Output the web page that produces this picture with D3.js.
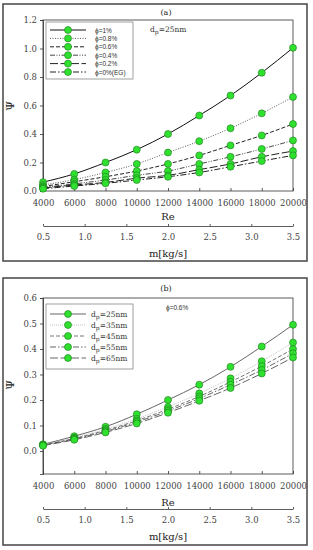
<!DOCTYPE html>
<html>
<head>
<meta charset="utf-8">
<script src="https://cdn.jsdelivr.net/npm/d3@7"></script>
<style>
  body { margin: 0; background: #fff; }
  svg { display: block; }
</style>
</head>
<body>
<div id="chart"></div>
<script>

// Reynolds numbers and mass flow ticks (shared by both panels)
const RE = [4000, 6000, 8000, 10000, 12000, 14000, 16000, 18000, 20000];
const MASS_TICKS = [0.5, 1.0, 1.5, 2.0, 2.5, 3.0, 3.5];

// panel (a): volume fraction series, dp = 25nm
const PHI_LABELS = ["ϕ=1%", "ϕ=0.8%", "ϕ=0.6%", "ϕ=0.4%", "ϕ=0.2%", "ϕ=0%(EG)"];
const PSI_PHI_1   = [0.062, 0.12, 0.20, 0.29, 0.40, 0.53, 0.67, 0.83, 1.005];
const PSI_PHI_08  = [0.042, 0.08, 0.13, 0.19, 0.27, 0.35, 0.44, 0.545, 0.66];
const PSI_PHI_06  = [0.032, 0.065, 0.10, 0.14, 0.19, 0.25, 0.32, 0.39, 0.47];
const PSI_PHI_04  = [0.026, 0.05, 0.077, 0.11, 0.14, 0.19, 0.24, 0.295, 0.355];
const PSI_PHI_02  = [0.021, 0.042, 0.06, 0.09, 0.11, 0.15, 0.19, 0.24, 0.28];
const PSI_PHI_0   = [0.016, 0.035, 0.054, 0.077, 0.10, 0.13, 0.17, 0.21, 0.25];
const PSI_A_TICKS = [0.0, 0.2, 0.4, 0.6, 0.8, 1.0, 1.2];

// panel (b): particle diameter series, phi = 0.6%
const DP_LABELS = ["25nm", "35nm", "45nm", "55nm", "65nm"];
const PSI_DP_25 = [0.026, 0.058, 0.095, 0.144, 0.20, 0.26, 0.33, 0.41, 0.495];
const PSI_DP_35 = [0.025, 0.052, 0.086, 0.126, 0.173, 0.226, 0.285, 0.352, 0.425];
const PSI_DP_45 = [0.024, 0.049, 0.081, 0.119, 0.164, 0.214, 0.271, 0.333, 0.40];
const PSI_DP_55 = [0.023, 0.047, 0.077, 0.114, 0.157, 0.206, 0.26, 0.318, 0.383];
const PSI_DP_65 = [0.021, 0.044, 0.073, 0.108, 0.15, 0.197, 0.247, 0.304, 0.367];
const PSI_B_TICKS = [0.0, 0.1, 0.2, 0.3, 0.4, 0.5, 0.6];

const SERIF = "'DejaVu Serif', serif";
const SANS = "'Liberation Sans', Arial, sans-serif";
const GREEN = "#2fe02f";

const SVG = d3.select("#chart")
  .append("svg")
    .attr("width", 313)
    .attr("height", 550);

// draw one framed panel
function drawPanel(cfg) {
  const g = SVG.append("g");

  // outer frame
  g.append("rect")
    .attr("x", 3).attr("y", cfg.frameTop)
    .attr("width", 304).attr("height", cfg.frameBottom - cfg.frameTop)
    .attr("fill", "none").attr("stroke", "#444").attr("stroke-width", 1.5);

  const X = d3.scaleLinear().domain([4000, 20000]).range([43, 293]);
  const Y = d3.scaleLinear().domain(cfg.yDomain).range([cfg.plotBottom, cfg.plotTop]);
  const M = d3.scaleLinear().domain([0.5, 3.5]).range([43, 293]);

  // plot box
  g.append("rect")
    .attr("x", 43).attr("y", cfg.plotTop)
    .attr("width", 250).attr("height", cfg.plotBottom - cfg.plotTop)
    .attr("fill", "none").attr("stroke", "#333").attr("stroke-width", 0.8);

  // axes
  const yAx = g.append("g")
    .attr("transform", "translate(43,0)")
    .call(d3.axisLeft(Y).tickValues(cfg.yTicks).tickFormat(d3.format(".1f")).tickSize(3).tickPadding(3));
  const xAx = g.append("g")
    .attr("transform", "translate(0," + cfg.plotBottom + ")")
    .call(d3.axisBottom(X).tickValues(RE).tickFormat(d3.format("d")).tickSize(-3).tickPadding(9));
  const mAx = g.append("g")
    .attr("transform", "translate(0," + cfg.massAxisY + ")")
    .call(d3.axisTop(M).tickValues(MASS_TICKS).tickFormat(d3.format(".1f")).tickSize(2).tickSizeOuter(0));
  mAx.selectAll("text").attr("dy", null).attr("y", 14);

  [yAx, xAx, mAx].forEach((a) => {
    a.selectAll("text").attr("font-family", SERIF).attr("font-size", "8.5px").attr("fill", "#444");
    a.selectAll("line, path").attr("stroke", "#333").attr("stroke-width", 0.8);
  });
  xAx.select(".domain").remove();

  // axis titles
  g.append("text")
    .attr("x", 168).attr("y", cfg.reLabelY)
    .attr("text-anchor", "middle").attr("font-family", SERIF).attr("font-size", "10px").attr("fill", "#222")
    .text("Re");
  g.append("text")
    .attr("x", 168).attr("y", cfg.massLabelY)
    .attr("text-anchor", "middle").attr("font-family", SERIF).attr("font-size", "10px").attr("fill", "#222")
    .text("m[kg/s]");
  g.append("text")
    .attr("transform", "translate(14," + cfg.psiY + ") rotate(-90)")
    .attr("text-anchor", "middle").attr("font-family", SERIF).attr("font-size", "11px").attr("fill", "#222")
    .text("Ψ");

  // panel title
  g.append("text")
    .attr("x", 166).attr("y", cfg.titleY)
    .attr("text-anchor", "middle").attr("font-family", SERIF).attr("font-size", "8px").attr("fill", "#222")
    .text(cfg.title);

  // series lines and markers
  const line = d3.line()
    .x((d, i) => X(RE[i]))
    .y((d) => Y(d))
    .curve(d3.curveMonotoneX);

  cfg.series.forEach((s) => {
    g.append("path")
      .datum(s.values)
      .attr("d", line)
      .attr("fill", "none")
      .attr("stroke", s.color)
      .attr("stroke-width", s.width)
      .attr("stroke-dasharray", s.dash);
  });
  cfg.series.forEach((s) => {
    g.selectAll(null)
      .data(s.values)
      .enter()
      .append("circle")
        .attr("cx", (d, i) => X(RE[i]))
        .attr("cy", (d) => Y(d))
        .attr("r", 3.5)
        .attr("fill", GREEN)
        .attr("stroke", "#1d7a1d")
        .attr("stroke-width", 0.6);
  });

  // legend
  const lg = g.append("g");
  lg.append("rect")
    .attr("x", 46).attr("y", cfg.legendTop)
    .attr("width", 87).attr("height", cfg.legendHeight)
    .attr("fill", "#fff").attr("stroke", "#888").attr("stroke-width", 0.8);
  cfg.series.forEach((s, i) => {
    const yy = cfg.legendTop + cfg.legendFirst + i * cfg.legendStep;
    lg.append("line")
      .attr("x1", 50).attr("x2", 86).attr("y1", yy).attr("y2", yy)
      .attr("stroke", s.color).attr("stroke-width", s.width).attr("stroke-dasharray", s.dash);
    lg.append("circle")
      .attr("cx", 68).attr("cy", yy).attr("r", 3.5)
      .attr("fill", GREEN).attr("stroke", "#1d7a1d").attr("stroke-width", 0.6);
    const t = lg.append("text")
      .attr("x", cfg.legendTextX).attr("y", yy + 2.5)
      .attr("font-family", cfg.legendFont).attr("font-size", cfg.legendSize).attr("fill", "#333");
    if (cfg.subscript) {
      t.append("tspan").text("d");
      t.append("tspan").attr("dy", 2).attr("font-size", "6px").text("p");
      t.append("tspan").attr("dy", -2).text("=" + s.label);
    } else {
      t.text(s.label);
    }
  });

  // annotation
  const note = g.append("text")
    .attr("x", cfg.noteX).attr("y", cfg.noteY)
    .attr("font-family", cfg.noteFont).attr("font-size", cfg.noteSize).attr("fill", "#333");
  if (cfg.noteSub) {
    note.append("tspan").text("d");
    note.append("tspan").attr("dy", 2).attr("font-size", "6px").text("p");
    note.append("tspan").attr("dy", -2).text("=25nm");
  } else {
    note.text(cfg.note);
  }
}

// panel (a)
const A_STYLES = [
  {color: "#111", width: 1.0, dash: null},
  {color: "#333", width: 0.8, dash: "1,1.5"},
  {color: "#222", width: 1.0, dash: "4,2"},
  {color: "#333", width: 0.9, dash: "5,1.5,1,1.5,1,1.5"},
  {color: "#222", width: 1.0, dash: "8,2.5"},
  {color: "#222", width: 1.0, dash: "6,2,1.5,2"}
];
const A_VALUES = [PSI_PHI_1, PSI_PHI_08, PSI_PHI_06, PSI_PHI_04, PSI_PHI_02, PSI_PHI_0];

drawPanel({
  frameTop: 4, frameBottom: 261,
  plotTop: 20, plotBottom: 191,
  yDomain: [0, 1.2], yTicks: PSI_A_TICKS,
  massAxisY: 226, reLabelY: 220, massLabelY: 257, psiY: 106,
  title: "(a)", titleY: 15,
  series: A_VALUES.map((v, i) => Object.assign({values: v, label: PHI_LABELS[i]}, A_STYLES[i])),
  legendTop: 22, legendHeight: 57, legendFirst: 8, legendStep: 8.4,
  legendTextX: 95, legendFont: SANS, legendSize: "6.5px", subscript: false,
  noteX: 150, noteY: 32, noteFont: SERIF, noteSize: "7.5px", noteSub: true
});

// panel (b)
const B_STYLES = [
  {color: "#555", width: 0.9, dash: null},
  {color: "#bbb", width: 0.9, dash: "1,1"},
  {color: "#666", width: 0.9, dash: "4,2"},
  {color: "#555", width: 0.9, dash: "6,2,1.5,2"},
  {color: "#555", width: 0.9, dash: "8,2.5"}
];
const B_VALUES = [PSI_DP_25, PSI_DP_35, PSI_DP_45, PSI_DP_55, PSI_DP_65];

drawPanel({
  frameTop: 278, frameBottom: 545,
  plotTop: 298, plotBottom: 474,
  yDomain: [-0.0902, 0.6], yTicks: PSI_B_TICKS,
  massAxisY: 509, reLabelY: 506, massLabelY: 540, psiY: 385,
  title: "(b)", titleY: 291,
  series: B_VALUES.map((v, i) => Object.assign({values: v, label: DP_LABELS[i]}, B_STYLES[i])),
  legendTop: 304, legendHeight: 65, legendFirst: 10, legendStep: 11,
  legendTextX: 91, legendFont: SERIF, legendSize: "7.5px", subscript: true,
  note: "ϕ=0.6%", noteX: 166, noteY: 310, noteFont: SANS, noteSize: "6.5px", noteSub: false
});

</script>
</body>
</html>
